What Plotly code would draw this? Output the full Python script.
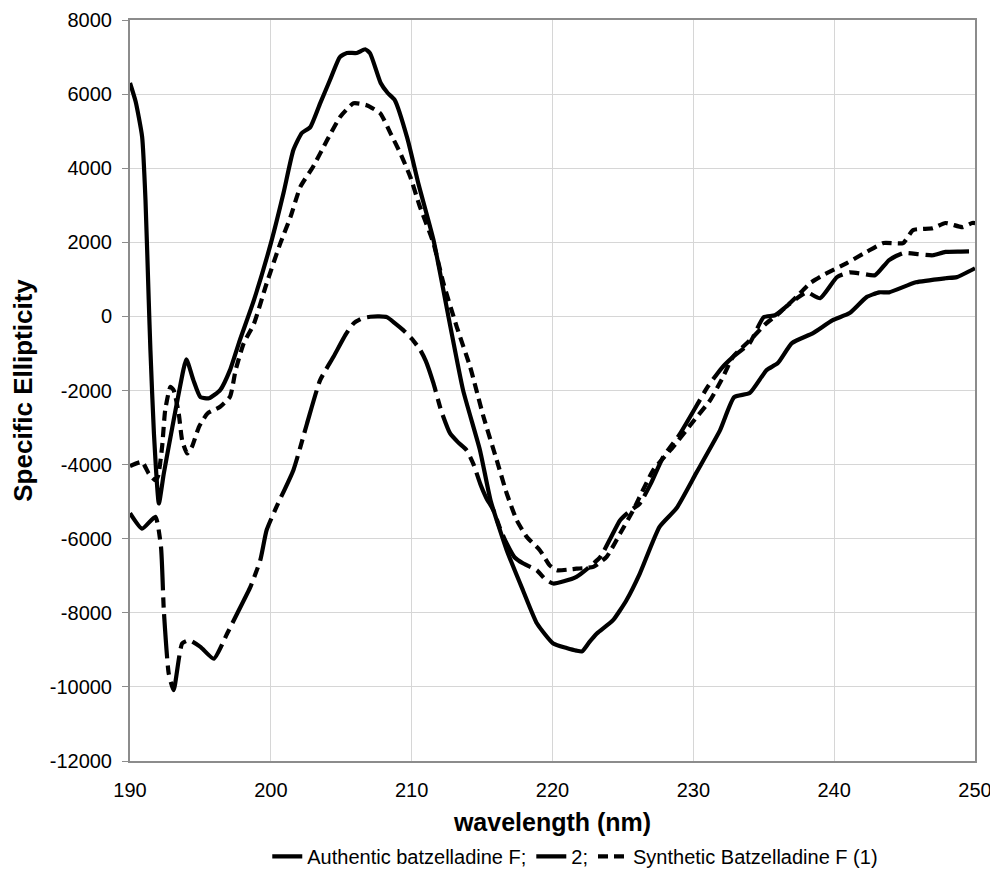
import plotly.graph_objects as go

# ---- data ----
authentic_x = [190.0, 190.4, 190.86, 191.1, 191.33, 191.45, 191.7, 192.05, 192.4, 193.0, 193.46,
               194.0, 194.5, 195.0, 195.6, 196.4, 197.1, 197.8, 198.8, 200.0, 200.9, 201.6, 202.2,
               202.8, 203.5, 204.2, 204.9, 205.4, 206.1, 206.7, 207.05, 207.8, 208.3, 208.8, 209.7,
               210.5, 211.55, 212.7, 213.65, 214.85, 215.6, 216.75, 217.9, 218.9, 220.05, 221.0,
               221.7, 222.1, 222.6, 223.15, 224.3, 225.25, 226.2, 227.6, 228.8, 230.2, 231.9, 232.9,
               234.0, 235.2, 236.0, 237.0, 238.5, 239.9, 241.1, 242.3, 243.2, 243.9, 245.8, 247.9,
               248.7, 250.0]
authentic_y = [6300, 5800, 4850, 3140, 440, -910, -3160, -5050, -4240, -3000, -2080,
               -1160, -1720, -2180, -2210, -1990, -1450, -640, 440, 1970, 3330, 4490, 4950,
               5110, 5750, 6380, 7000, 7110, 7110, 7210, 7100, 6300, 6030, 5840, 4800,
               3550, 2060, -180, -1990, -3610, -4960, -6310, -7390, -8290, -8830, -8950,
               -9020, -9040, -8800, -8560, -8200, -7660, -6940, -5680, -5180, -4230, -3070, -2180,
               -2070, -1450, -1260, -720, -450, -100, 90, 520, 650, 650, 920, 1030,
               1060, 1300]

cmpd2_x = [190.0, 190.86, 191.8, 192.2, 192.4, 192.75, 193.1, 193.7, 194.2, 195.0, 195.95,
           196.9, 197.7, 198.55, 199.25, 199.7, 200.4, 201.6, 202.57, 203.5, 204.45, 205.3,
           205.87, 206.5, 207.06, 207.7, 208.24, 208.8, 209.4, 210.0, 210.6, 211.0, 211.55,
           212.1, 212.73, 213.3, 213.9, 214.4, 214.86, 215.3, 215.8, 216.3, 216.75, 217.3,
           217.93, 218.88, 219.5, 220.06, 220.8, 221.7, 222.5, 223.4, 224.1, 224.8, 225.5,
           226.2, 227.0, 227.86, 229.0, 230.46, 231.0, 232.0, 232.8, 234.0, 235.0, 235.8,
           236.9, 238.05, 239.0, 240.2, 241.1, 242.0, 242.9, 243.9, 244.9, 246.0, 247.0,
           247.9, 249.0, 250.0]
cmpd2_y = [-5310, -5730, -5410, -6220, -7930, -9640, -10090, -8830, -8740, -8920, -9240,
           -8560, -7950, -7300, -6580, -5770, -5140, -4150, -2890, -1720, -1090, -500,
           -190, -50, -10, 0, -20, -180, -370, -600, -900, -1200, -1810,
           -2550, -3160, -3400, -3610, -4000, -4510, -4900, -5230, -5750, -6130, -6500,
           -6670, -6850, -7100, -7210, -7150, -7030, -6800, -6490, -6000, -5500, -5250,
           -5050, -4500, -3790, -3200, -2260, -1910, -1400, -1100, -720, -20, 30,
           360, 650, 490, 1060, 1190, 1150, 1110, 1520, 1710, 1680, 1650,
           1740, 1750, 1760]

synth_x = [190.0, 190.86, 191.33, 191.8, 192.0, 192.28, 192.5, 192.87, 193.1, 193.46, 193.7,
           194.06, 194.4, 194.9, 195.5, 196.4, 197.1, 197.5, 198.07, 198.8, 199.7, 200.67,
           201.4, 202.1, 203.0, 204.0, 204.93, 205.87, 206.8, 207.77, 208.5, 209.2, 209.9,
           210.55, 211.55, 212.26, 213.2, 214.15, 215.1, 216.04, 216.75, 217.46, 218.17,
           219.1, 219.8, 220.3, 221.7, 222.9, 223.84, 224.8, 225.73, 227.15, 228.57, 229.96,
           231.2, 232.1, 232.8, 234.0, 235.2, 236.1, 237.3, 238.3, 239.2, 240.9, 242.3,
           243.5, 244.9, 245.6, 247.0, 247.9, 249.1, 249.8, 250.0]
synth_y = [-4040, -3930, -4240, -4420, -4300, -3520, -2530, -1900, -1990, -2620, -3340,
           -3700, -3520, -2980, -2620, -2440, -2170, -1450, -730, -200, 890, 1970,
           2690, 3500, 4040, 4760, 5390, 5750, 5700, 5480, 4940, 4400, 3770,
           3000, 1970, 890, -280, -1360, -2710, -3880, -4780, -5500, -5950,
           -6310, -6720, -6850, -6810, -6760, -6490, -5860, -5230, -4150, -3520, -2850,
           -2260, -1640, -1100, -650, -180, 90, 520, 900, 1110, 1440, 1740,
           1980, 1980, 2330, 2380, 2520, 2410, 2520, 2520]

series_names = ["Authentic batzelladine F;", "2;", "Synthetic Batzelladine F (1)"]

y_tickvals = [-12000, -10000, -8000, -6000, -4000, -2000, 0, 2000, 4000, 6000, 8000]
y_ticktext = ["-12000", "-10000", "-8000", "-6000", "-4000", "-2000", "0", "2000", "4000", "6000", "8000"]
x_tickvals = [190, 200, 210, 220, 230, 240, 250]
x_ticktext = ["190", "200", "210", "220", "230", "240", "250"]

FONT = "Liberation Sans, Arial, Helvetica, sans-serif"
LW = 4.2

fig = go.Figure()
fig.add_trace(go.Scatter(x=authentic_x, y=authentic_y, mode="lines", name=series_names[0],
                         line=dict(color="black", width=LW, shape="spline", smoothing=0.5)))
fig.add_trace(go.Scatter(x=cmpd2_x, y=cmpd2_y, mode="lines", name=series_names[1],
                         line=dict(color="black", width=LW, shape="spline", smoothing=0.5,
                                   dash="44px,7px,10px,7px")))
fig.add_trace(go.Scatter(x=synth_x, y=synth_y, mode="lines", name=series_names[2],
                         line=dict(color="black", width=LW, shape="spline", smoothing=0.5,
                                   dash="10px,6px")))

# the page adds an 8px body margin, so the figure is made 8px smaller and shifted
fig.update_layout(
    width=990, height=863,
    margin=dict(l=121.5, r=22.5, t=12, b=110.3, autoexpand=False),
    paper_bgcolor="white", plot_bgcolor="white",
    font=dict(family=FONT, color="black", size=20),
    showlegend=True,
    legend=dict(orientation="h", xref="container", yref="container",
                x=0.573, xanchor="center", y=0.017, yanchor="middle",
                font=dict(family=FONT, size=20, color="black"), bgcolor="rgba(0,0,0,0)"),
    xaxis=dict(range=[190, 250], tickvals=x_tickvals, ticktext=x_ticktext,
               showgrid=True, gridcolor="#d6d6d6", gridwidth=1,
               showline=True, linecolor="#8c8c8c", linewidth=2, mirror=True,
               ticks="", ticklabelstandoff=10, zeroline=False, automargin=False,
               tickfont=dict(family=FONT, size=20, color="black"),
               title=dict(text="<b>wavelength (nm)</b>", standoff=13,
                          font=dict(family=FONT, size=25, color="black"))),
    yaxis=dict(range=[-12000, 8000], tickvals=y_tickvals, ticktext=y_ticktext,
               showgrid=True, gridcolor="#d6d6d6", gridwidth=1,
               showline=True, linecolor="#8c8c8c", linewidth=2, mirror=True,
               ticks="outside", ticklen=6, tickcolor="#8c8c8c", tickwidth=1,
               ticklabelstandoff=6, zeroline=False, automargin=False,
               tickfont=dict(family=FONT, size=20, color="black"),
               title=dict(text="<b>Specific Ellipticity</b>", standoff=10,
                          font=dict(family=FONT, size=26, color="black"))),
)

fig.write_html("out.html")
